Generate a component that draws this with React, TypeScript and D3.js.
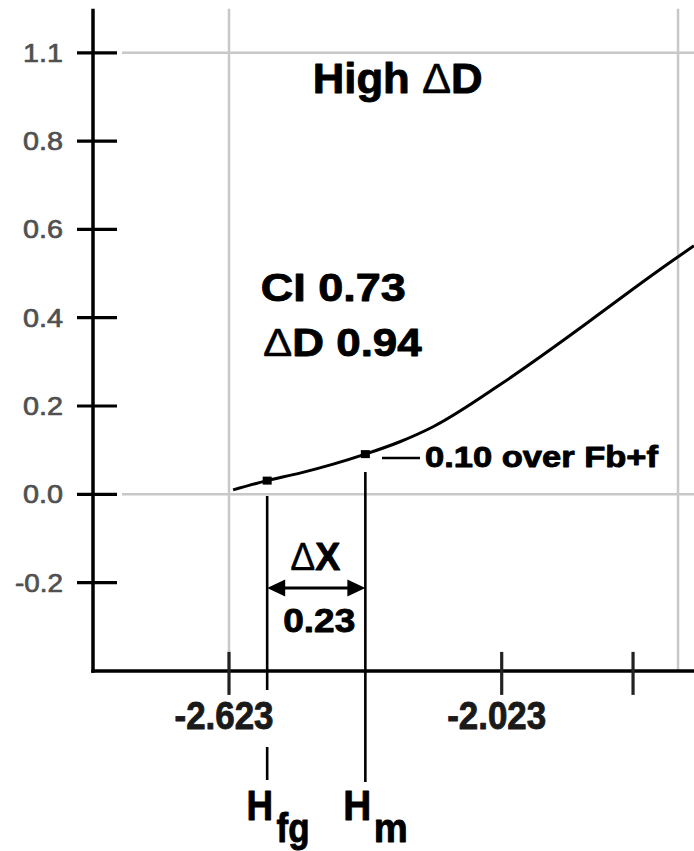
import React from "react";
import * as d3 from "d3";

// ---- data ----
const curveX = [-2.614, -2.539, -2.467, -2.323, -2.247, -2.174, -2.027, -1.879, -1.822, -1.734, -1.646, -1.6];
const curveY = [0.01, 0.031, 0.048, 0.091, 0.119, 0.153, 0.248, 0.355, 0.398, 0.465, 0.53, 0.563];
const yTickValues = [-0.2, 0, 0.2, 0.4, 0.6, 0.8, 1.0];
const yTickLabels = ["-0.2", "0.0", "0.2", "0.4", "0.6", "0.8", "1.1"];
const xTickValues = [-2.623, -2.023, -1.734];
const xTickLabels = ["-2.623", "-2.023", ""];
const xGridValues = [-2.623, -1.635];
const yGridValues = [0, 1.0];
const markerX = [-2.539, -2.323]; // H_fg, H_m
const markerY = [0.031, 0.091];
const deltaXLabel = "0.23";
const ciLabel = "CI 0.73";
const dDLabel = "0.94";
const overLabel = "0.10 over Fb+f";

const W = 694;
const H = 851;
const FONT = "'Liberation Sans', Arial, Helvetica, sans-serif";

const x = d3.scaleLinear().domain([-2.623, -2.023]).range([229, 501.7]);
const y = d3.scaleLinear().domain([0, 1]).range([494.3, 52.8]);
const xLeft = x.invert(93);
const yBottom = -0.4;
const yTop = 1.1;

function T({ x: tx, y: ty, w, size, anchor = "start", fill = "#000", weight = 700, sw = 0.9, children }: any) {
  return (
    <text
      x={tx}
      y={ty}
      fontSize={size}
      fontFamily={FONT}
      fontWeight={weight}
      fill={fill}
      stroke={fill}
      strokeWidth={sw}
      strokeLinejoin="round"
      textAnchor={anchor}
      textLength={w}
      lengthAdjust="spacingAndGlyphs"
    >
      {children}
    </text>
  );
}

export default function App() {
  const line = d3
    .line<number>()
    .x((_, i) => x(curveX[i]))
    .y((_, i) => y(curveY[i]))
    .curve(d3.curveMonotoneX);
  const pathD = line(curveX) || "";

  const axisX = x(xLeft);
  const axisY = y(yBottom);
  const hfg = x(markerX[0]);
  const hm = x(markerX[1]);
  const mid = (hfg + hm) / 2;
  const arrowY = 588;

  return (
    <svg
      width={W}
      height={H}
      style={{ position: "absolute", left: 0, top: 0, background: "#fff" }}
    >
      <rect x={0} y={0} width={W} height={H} fill="#fff" />
      {/* grid */}
      {yGridValues.map((v) => (
        <line key={"gy" + v} x1={122} x2={W} y1={y(v)} y2={y(v)} stroke="#c8c8c8" strokeWidth={2.5} />
      ))}
      {xGridValues.map((v) => (
        <line key={"gx" + v} x1={x(v)} x2={x(v)} y1={y(yTop)} y2={axisY} stroke="#c8c8c8" strokeWidth={2.5} />
      ))}

      {/* axes */}
      <line x1={axisX} x2={axisX} y1={y(yTop)} y2={axisY + 1.75} stroke="#000" strokeWidth={3.5} />
      <line x1={axisX - 1.75} x2={W} y1={axisY} y2={axisY} stroke="#000" strokeWidth={3.5} />

      {yTickValues.map((v, i) => (
        <g key={"yt" + v}>
          <line x1={axisX - 16} x2={axisX + 24} y1={y(v)} y2={y(v)} stroke="#000" strokeWidth={3.2} />
          <T x={63} y={y(v) + 9} size={26} weight={400} anchor="end" fill="#505050" sw={0.7} w={yTickLabels[i].length > 3 ? 48 : 40}>
            {yTickLabels[i]}
          </T>
        </g>
      ))}

      {xTickValues.map((v, i) => (
        <g key={"xt" + v}>
          <line x1={x(v)} x2={x(v)} y1={axisY - 19} y2={axisY + 24} stroke="#222" strokeWidth={3.2} />
          {xTickLabels[i] && (
            <T x={x(v) - 5} y={729} size={38} anchor="middle" fill="#1a1a1a" w={99}>
              {xTickLabels[i]}
            </T>
          )}
        </g>
      ))}

      {/* curve */}
      <path d={pathD} fill="none" stroke="#000" strokeWidth={3} strokeLinejoin="round" />
      {markerX.map((v, i) => (
        <rect key={"m" + v} x={x(v) - 4.5} y={y(markerY[i]) - 4} width={9} height={8} fill="#000" />
      ))}

      {/* H_fg / H_m drop lines */}
      <line x1={hfg} x2={hfg} y1={496} y2={690} stroke="#000" strokeWidth={2.6} />
      <line x1={hfg} x2={hfg} y1={747} y2={780} stroke="#000" strokeWidth={2.6} />
      <line x1={hm} x2={hm} y1={472} y2={782} stroke="#000" strokeWidth={2.6} />

      {/* delta X arrow */}
      <line x1={hfg + 14} x2={hm - 14} y1={arrowY} y2={arrowY} stroke="#000" strokeWidth={2.8} />
      <path d={`M${hfg},${arrowY} L${hfg + 18},${arrowY - 8.5} L${hfg + 18},${arrowY + 8.5} Z`} fill="#000" />
      <path d={`M${hm},${arrowY} L${hm - 18},${arrowY - 8.5} L${hm - 18},${arrowY + 8.5} Z`} fill="#000" />
      <T x={mid - 1} y={570} size={38} anchor="middle" w={50}>
        <tspan fontWeight={400} strokeWidth={0.3}>Δ</tspan>X
      </T>
      <T x={mid + 3} y={631.5} size={34} anchor="middle" w={72}>
        {deltaXLabel}
      </T>

      {/* 0.10 label */}
      <line x1={382} x2={420} y1={458} y2={458} stroke="#000" strokeWidth={2.6} />
      <T x={425} y={466.5} size={30} w={233}>
        {overLabel}
      </T>

      {/* titles */}
      <T x={312.7} y={93.3} size={42} w={170}>
        High <tspan fontWeight={400} strokeWidth={0.4}>Δ</tspan>D
      </T>
      <T x={260.7} y={300.7} size={39} w={145}>
        {ciLabel}
      </T>
      <T x={263} y={356} size={39} w={158.7}>
        <tspan fontWeight={400} strokeWidth={0.4}>Δ</tspan>D {dDLabel}
      </T>

      {/* H labels */}
      <T x={hfg - 20.6} y={820} size={43} w={26.6}>H</T>
      <T x={hfg + 9.4} y={842} size={40} w={33}>fg</T>
      <T x={hm - 22} y={820} size={43} w={28}>H</T>
      <T x={hm + 8.5} y={842} size={40} w={34}>m</T>
    </svg>
  );
}
